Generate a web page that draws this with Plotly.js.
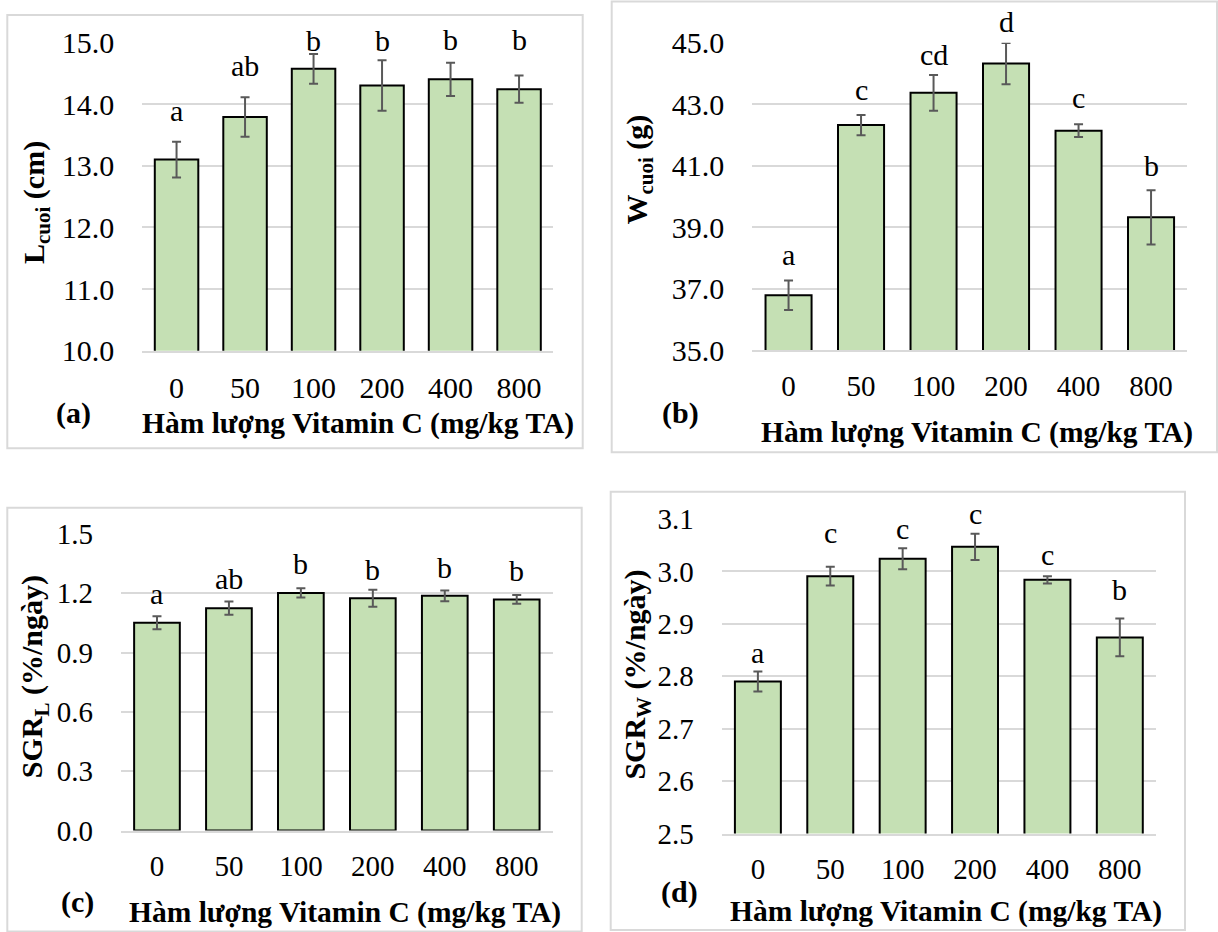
<!DOCTYPE html>
<html>
<head>
<meta charset="utf-8">
<script src="https://cdn.plot.ly/plotly-3.0.1.min.js"></script>
<style>
  html, body { margin: 0; padding: 0; background: #fff; }
  #chart { width: 1218px; height: 932px; }
</style>
</head>
<body>
<div id="chart"></div>
<script>
// Vitamin C dose in feed (mg/kg)
const doses = ['0', '50', '100', '200', '400', '800'];

// (a) final length, cm (mean ± SE) and significance letters
const lengthMean = [13.10, 13.79, 14.57, 14.30, 14.40, 14.24];
const lengthErr = [0.29, 0.32, 0.24, 0.41, 0.27, 0.22];
const lengthLetters = ['a', 'ab', 'b', 'b', 'b', 'b'];
const lengthTicks = [10, 11, 12, 13, 14, 15];

// (b) final weight, g
const weightMean = [36.79, 42.32, 43.37, 44.32, 42.14, 39.32];
const weightErr = [0.48, 0.33, 0.58, 0.67, 0.21, 0.88];
const weightLetters = ['a', 'c', 'cd', 'd', 'c', 'b'];
const weightTicks = [35, 37, 39, 41, 43, 45];

// (c) specific growth rate in length, %/day
const sgrLMean = [1.051, 1.125, 1.202, 1.175, 1.187, 1.169];
const sgrLErr = [0.033, 0.034, 0.023, 0.043, 0.027, 0.022];
const sgrLLetters = ['a', 'ab', 'b', 'b', 'b', 'b'];
const sgrLTicks = [0, 0.3, 0.6, 0.9, 1.2, 1.5];

// (d) specific growth rate in weight, %/day
const sgrWMean = [2.790, 2.991, 3.024, 3.047, 2.984, 2.874];
const sgrWErr = [0.019, 0.018, 0.020, 0.025, 0.007, 0.036];
const sgrWLetters = ['a', 'c', 'c', 'c', 'c', 'b'];
const sgrWTicks = [2.5, 2.6, 2.7, 2.8, 2.9, 3.0, 3.1];

const xTitle = 'Hàm lượng Vitamin C (mg/kg TA)';

// ---- page geometry (pixels) ----
const W = 1218, H = 932;
const FONT = 'Liberation Serif';
const px = v => v / W;
const py = v => 1 - v / H;
// distance from a letter's box bottom to its baseline (descender + padding)
const BASE_DROP = 8.5;

const panels = [
  {
    mean: lengthMean, err: lengthErr, letters: lengthLetters, ticks: lengthTicks,
    range: [10, 15], yTitle: '<b>L<sub>cuoi</sub> (cm)</b>', tag: '<b>(a)</b>',
    plot: [142.3, 42.3, 553.3, 350.8], frame: [7.3, 15, 582.7, 448.3],
    yTitlePos: [36, 203], xTitlePos: [358, 423], tagPos: [73.5, 412.5],
    letterGap: [21, 22, 4, 10, 13, 26], tickSize: 30, xTickSize: 30
  },
  {
    mean: weightMean, err: weightErr, letters: weightLetters, ticks: weightTicks,
    range: [35, 45], yTitle: '<b>W<sub>cuoi</sub> (g)</b>', tag: '<b>(b)</b>',
    plot: [752.3, 42.7, 1187.3, 350.2], frame: [611.7, 1.5, 1217, 452.3],
    yTitlePos: [638.6, 170], xTitlePos: [977, 432.5], tagPos: [680, 412.7],
    letterGap: [16, 15, 10, 12, 17, 14.5], tickSize: 30, xTickSize: 29
  },
  {
    mean: sgrLMean, err: sgrLErr, letters: sgrLLetters, ticks: sgrLTicks,
    range: [0, 1.5], yTitle: '<b>SGR<sub>L</sub> (%/ngày)</b>', tag: '<b>(c)</b>',
    plot: [121, 534, 552.7, 830.5], frame: [7.3, 507.7, 581.7, 931.5],
    yTitlePos: [34.3, 677], xTitlePos: [345, 912.5], tagPos: [77.6, 901.7],
    letterGap: [13, 13, 15, 10, 13, 15], tickSize: 29, xTickSize: 29
  },
  {
    mean: sgrWMean, err: sgrWErr, letters: sgrWLetters, ticks: sgrWTicks,
    range: [2.5, 3.1], yTitle: '<b>SGR<sub>W</sub> (%/ngày)</b>', tag: '<b>(d)</b>',
    plot: [721.7, 519, 1156, 833.5], frame: [610.7, 491.7, 1185, 930],
    yTitlePos: [636.6, 675], xTitlePos: [946, 911], tagPos: [679, 891.7],
    letterGap: [9, 24, 10, 10, 12, 19], tickSize: 29, xTickSize: 29
  }
];

const traces = [];
const annotations = [];
const shapes = [];
const layout = {
  width: W, height: H,
  margin: { l: 0, r: 0, t: 0, b: 0, pad: 0 },
  paper_bgcolor: '#fff', plot_bgcolor: 'rgba(0,0,0,0)',
  showlegend: false, bargap: 0.365,
  font: { family: FONT, color: '#000' }
};

panels.forEach((p, i) => {
  const n = i === 0 ? '' : String(i + 1);
  const xa = 'x' + n, ya = 'y' + n;

  traces.push({
    type: 'bar', x: doses, y: p.mean, xaxis: xa, yaxis: ya,
    marker: { color: '#c5e0b4', line: { color: '#000', width: 2 } },
    error_y: { type: 'data', array: p.err, visible: true, color: '#595959', thickness: 2, width: 4.5 },
    hoverinfo: 'skip'
  });

  layout['xaxis' + n] = {
    domain: [px(p.plot[0]), px(p.plot[2])], anchor: ya,
    type: 'category', range: [-0.5, doses.length - 0.5],
    showgrid: false, zeroline: false,
    showline: true, linecolor: '#d9d9d9', linewidth: 2,
    ticks: '', ticklabelstandoff: 9,
    tickfont: { family: FONT, size: p.xTickSize, color: '#000' },
    fixedrange: true
  };
  layout['yaxis' + n] = {
    domain: [py(p.plot[3]), py(p.plot[1])], anchor: xa,
    range: p.range, tickvals: p.ticks, tickformat: '.1f',
    showgrid: true, gridcolor: '#d9d9d9', gridwidth: 2,
    zeroline: false, showline: false,
    ticks: '', ticklabelstandoff: 27,
    tickfont: { family: FONT, size: p.tickSize, color: '#000' },
    fixedrange: true
  };

  // significance letters above each error bar (category index on the x axis)
  doses.forEach((d, k) => {
    annotations.push({
      xref: xa, yref: ya, x: k, y: p.mean[k] + p.err[k],
      text: p.letters[k], showarrow: false,
      xanchor: 'center', yanchor: 'bottom', yshift: p.letterGap[k] - BASE_DROP,
      font: { family: FONT, size: 30, color: '#000' }
    });
  });

  // axis titles and panel tag
  annotations.push({
    xref: 'paper', yref: 'paper', x: px(p.yTitlePos[0]), y: py(p.yTitlePos[1]),
    text: p.yTitle, textangle: -90, showarrow: false,
    xanchor: 'center', yanchor: 'middle',
    font: { family: FONT, size: 30, color: '#000' }
  });
  annotations.push({
    xref: 'paper', yref: 'paper', x: px(p.xTitlePos[0]), y: py(p.xTitlePos[1]),
    text: '<b>' + xTitle + '</b>', showarrow: false,
    xanchor: 'center', yanchor: 'middle',
    font: { family: FONT, size: 29.5, color: '#000' }
  });
  annotations.push({
    xref: 'paper', yref: 'paper', x: px(p.tagPos[0]), y: py(p.tagPos[1]),
    text: p.tag, showarrow: false,
    xanchor: 'center', yanchor: 'middle',
    font: { family: FONT, size: 30, color: '#000' }
  });

  // light grey chart-area border
  shapes.push({
    type: 'rect', xref: 'paper', yref: 'paper', layer: 'below',
    x0: px(p.frame[0]), x1: px(p.frame[2]), y0: py(p.frame[3]), y1: py(p.frame[1]),
    line: { color: '#d9d9d9', width: 2 }, fillcolor: 'rgba(0,0,0,0)'
  });
});

layout.annotations = annotations;
layout.shapes = shapes;

Plotly.newPlot('chart', traces, layout, { displayModeBar: false, staticPlot: true });
</script>
</body>
</html>
